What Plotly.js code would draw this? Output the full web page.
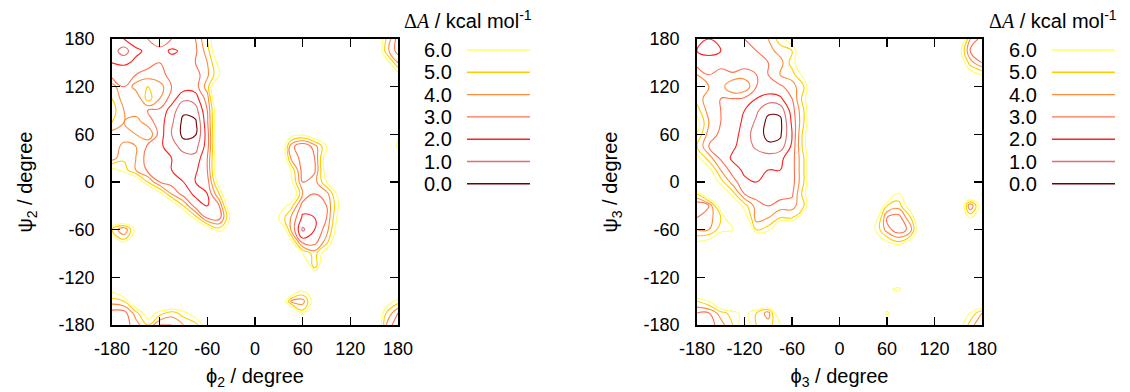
<!DOCTYPE html>
<html>
<head>
<meta charset="utf-8">
<script src="https://cdn.plot.ly/plotly-3.0.1.min.js"></script>
<style>html,body{margin:0;padding:0;background:#fff;}#chart{width:1130px;height:392px;}</style>
</head>
<body>
<div id="chart"></div>
<script>
// grid of dihedral angles (degrees)
const phiGrid = [-180,-165,-150,-135,-120,-105,-90,-75,-60,-45,-30,-15,0,15,30,45,60,75,90,105,120,135,150,165,180];
const psiGridTopDown = [180,165,150,135,120,105,90,75,60,45,30,15,0,-15,-30,-45,-60,-75,-90,-105,-120,-135,-150,-165,-180];

// contour levels, labels and colours
const levels = [6,5,4,3,2,1,0];
const levelLabels = ['6.0','5.0','4.0','3.0','2.0','1.0','0.0'];
const levelColors = ['#ffff66','#ffcc00','#ff8c3c','#ff7050','#ff2020','#e07070','#700000'];
const tickVals = [-180,-120,-60,0,60,120,180];
const tickLabels = ['-180','-120','-60','0','60','120','180'];
const xTitles = ['ϕ<sub>2</sub> / degree','ϕ<sub>3</sub> / degree'];
const yTitles = ['ψ<sub>2</sub> / degree','ψ<sub>3</sub> / degree'];
const legendTitle = '<span style="font-family:Liberation Serif, Times New Roman, serif;">Δ<i>A</i></span> / kcal mol<sup>-1</sup>';

// free energy ΔA (kcal/mol), panel 1: phi2/psi2, rows from psi=180 down to psi=-180
const dA2 = [
 [2,2,2.5,3,4,3,2.5,3,5,8,9,9,9,9,9,9,9,9,9,9,9,9,9,5,2.5],
 [1.5,0.5,1.8,2.2,2.5,1.8,2.2,2.8,4.5,8,9,9,9,9,9,9,9,9,9,9,9,9,9,4.5,2.5],
 [2,1.8,2.2,2.5,3,2.5,2.8,3,4,6.5,9,9,9,9,9,9,9,9,9,9,9,9,9,7,4],
 [2.5,2.8,3,3.5,3.2,2.8,3,2.5,3.8,6,9,9,9,9,9,9,9,9,9,9,9,9,9,9,6.5],
 [4.5,3,4.5,5,4.5,3,2.5,2.5,4.5,9,9,9,9,9,9,9,9,9,9,9,9,9,9,9,9],
 [5,3.5,3,5.5,4,2.5,1.2,1.5,3.5,9,9,9,9,9,9,9,9,9,9,9,9,9,9,9,9],
 [5.5,4,3.5,3,2.8,1.5,0.2,0.5,3,8,9,9,9,9,9,9,9,9,9,9,9,9,9,9,9],
 [5,4,4.5,3.5,2.5,1.2,-0.3,-0.2,2.8,8,9,9,9,9,9,9,9,9,9,9,9,9,9,9,9],
 [3.5,3,4,5,2.5,1,-0.3,-0.1,2.5,8,9,9,9,9,9,6.8,6.3,7.5,9,9,9,9,9,9,6.5],
 [3,4.5,4,2.8,2.2,1.5,0.5,0.6,2.5,8,9,9,9,9,9,3.5,2,3.5,6,9,9,9,9,9,5.5],
 [3.5,4.8,4,2.5,2.2,2,1.5,1.3,3,8,9,9,9,9,9,4,2.5,3,7,9,9,9,9,9,9],
 [6.5,5.5,4,2.8,2.3,2,2,1.8,3,8,9,9,9,9,9,6,2.5,2.8,7,9,9,9,9,9,9],
 [9,9,7.5,5,3,2.5,2,2,2.5,7,9,9,9,9,9,6.5,3,3.5,6,9,9,9,9,9,9],
 [9,9,9,9,6.5,4,2.5,1.8,2,5,9,9,9,9,9,8,4,3,3.5,6.5,9,9,9,9,9],
 [9,9,9,9,9,7.5,5,2.5,2,3,8,9,9,9,7,5.5,2.5,2.2,3,6,9,9,9,9,9],
 [9,9,9,9,9,9,8,5.5,2.8,2.5,6.5,9,9,9,6,4,1.8,2,3,6.5,9,9,9,9,9],
 [5,3,6.5,9,9,9,9,9,7,5.5,7,9,9,9,9,4,0.8,2,3.5,7,9,9,9,9,9],
 [9,5.5,9,9,9,9,9,9,9,9,9,9,9,9,9,6.5,2.5,2.5,4.5,8,9,9,9,9,9],
 [9,9,9,9,9,9,9,9,9,9,9,9,9,9,9,9,6,4.5,7,9,9,9,9,9,9],
 [9,9,9,9,9,9,9,9,9,9,9,9,9,9,9,9,9,4,9,9,9,9,9,9,9],
 [9,9,9,9,9,9,9,9,9,9,9,9,9,9,9,9,9,9,9,9,9,9,9,9,9],
 [6.5,8,9,9,9,9,9,9,9,9,9,9,9,9,9,9,6.5,9,9,9,9,9,9,9,9],
 [4.5,5,8,9,9,9,9,9,9,9,9,9,9,9,9,4,3.5,7,9,9,9,9,9,7,5.5],
 [2.5,2.5,4.5,7,5.5,4.5,5.5,7,9,9,9,9,9,9,9,9,5.5,9,9,9,9,9,9,5,3],
 [2,2.5,3.5,5,3,3,4,4.5,7,9,9,9,9,9,9,9,9,9,9,9,9,9,9,4,2]
];

// panel 2: phi3/psi3, rows from psi=180 down to psi=-180
const dA3 = [
 [2.5,2,2.5,2.8,3,3.5,4,5.5,7,9,9,9,9,9,9,9,9,9,9,9,9,9,9,4,2.5],
 [2,1.5,2,2.2,2.5,3,3.5,4.5,5,8,9,9,9,9,9,9,9,9,9,9,9,9,7,3,2.5],
 [2.5,2.8,2.5,2.2,2.5,2.5,3,3.5,5.5,7.5,9,9,9,9,9,9,9,9,9,9,9,9,8,4.5,3],
 [4,3,3.5,3.2,3.5,3,3,4,4.5,6.5,9,9,9,9,9,9,9,9,9,9,9,9,9,7,6],
 [5,4,3.5,5,4.8,3,2.8,2.8,3.5,5,9,9,9,9,9,9,9,9,9,9,9,9,9,9,9],
 [4.5,3.5,3,3,2.8,2,1.5,1.8,3,5.5,9,9,9,9,9,9,9,9,9,9,9,9,9,9,9],
 [5.5,3.5,3,2.5,2,1.2,0.2,0.3,2.5,5,9,9,9,9,9,9,9,9,9,9,9,9,9,9,9],
 [6.5,4,3,2.5,1.8,0.8,-0.3,-0.3,2.2,5,9,9,9,9,9,9,9,9,9,9,9,9,9,9,9],
 [6,3.5,2.8,2.5,1.5,0.5,-0.3,-0.2,2,5.5,9,9,9,9,9,9,9,9,9,9,9,9,9,9,9],
 [5,3,2.5,2.2,1.5,0.8,0.2,0.4,2.2,5.5,9,9,9,9,9,9,9,9,9,9,9,9,9,9,9],
 [6.5,4.5,2.8,1.8,1.8,1.5,1.5,1.8,2.5,5,9,9,9,9,9,9,9,9,9,9,9,9,9,9,9],
 [9,6.5,4,2.5,1.8,1.8,2,2,2.5,5,9,9,9,9,9,9,9,9,9,9,9,9,9,9,9],
 [9,8,5.5,3.5,2.2,2,2.5,2.2,2.5,5,9,9,9,9,9,9,9,9,9,9,9,9,9,9,9],
 [5,8,8,5.5,3,2.5,2.5,2.5,2.8,5.5,9,9,9,9,9,9,9,5.8,9,9,9,9,9,9,5.8],
 [2,3,7,8,5.5,3.5,3,3.5,3.5,5,9,9,9,9,9,9,5,4.5,7,9,9,9,9,3,7],
 [3,3.5,5,8,7,3.5,4,5,5,7.5,9,9,9,9,9,7,3,2.5,5,9,9,9,9,6,9],
 [4,4,5.5,5.8,9,5,5.5,9,9,9,9,9,9,9,9,6,3.5,2.2,3.5,9,9,9,9,9,5.8],
 [6,6.5,8,9,9,9,9,9,9,9,9,9,9,9,9,9,6,5,6.5,9,9,9,9,9,9],
 [9,9,9,9,9,9,9,9,9,9,9,9,9,9,9,9,9,9,9,9,9,9,9,9,9],
 [9,9,9,9,9,9,9,9,9,9,9,9,9,9,9,9,9,9,9,9,9,9,9,9,9],
 [9,9,9,9,9,9,9,9,9,9,9,9,9,9,9,9,9,9,9,9,9,9,9,9,9],
 [9,9,9,9,9,9,9,9,9,9,9,9,9,9,9,9,6.5,5.5,9,9,9,9,9,9,9],
 [5,6,9,9,9,9,9,9,9,9,9,9,9,9,9,9,9,9,9,9,9,9,9,9,9],
 [3,3,4.5,5.5,6.5,5,3.5,8,9,9,9,9,9,9,9,9,5.5,9,9,9,9,9,9,6,4],
 [2.5,2.5,3.5,5,7,5,4.5,6,9,9,9,9,9,9,9,9,9,9,9,9,9,9,7,4.5,3]
];

const psiGrid = psiGridTopDown.slice().reverse();
const z2 = dA2.slice().reverse();
const z3 = dA3.slice().reverse();

const lvlMin = Math.min(...levels), lvlMax = Math.max(...levels);
const colorscale = levels.map((l,i)=>[(l-lvlMin)/(lvlMax-lvlMin), levelColors[i]]).sort((a,b)=>a[0]-b[0]);

function contourTrace(z, xa, ya){
  return {
    type:'contour', x:phiGrid, y:psiGrid, z:z, xaxis:xa, yaxis:ya,
    zmin:lvlMin, zmax:lvlMax, colorscale:colorscale, showscale:false,
    contours:{start:lvlMin, end:lvlMax, size:1, coloring:'lines'},
    line:{width:1.1, smoothing:1.3}, hoverinfo:'skip'
  };
}

const data = [contourTrace(z2,'x','y'), contourTrace(z3,'x2','y2')];

const FONT = 'Liberation Sans, Arial, sans-serif';
function axis(dom, anchor, standoff, title, titleStandoff){
  return {domain:dom, anchor:anchor, range:[-180,180], tickmode:'array', tickvals:tickVals, ticktext:tickLabels,
    ticks:'inside', ticklen:8, tickwidth:1.2, tickcolor:'#000', mirror:'allticks', showline:true, linecolor:'#000', linewidth:1.8,
    showgrid:false, zeroline:false, ticklabelstandoff:standoff, tickfont:{family:FONT, size:18, color:'#000'},
    title:{text:title, font:{family:FONT, size:20, color:'#000'}, standoff:titleStandoff}, automargin:false};
}

const W = 870, H = 286; // plot-area size in pixels
const px = v => v / W, py = v => v / H;
const panelOffsets = [0, 585];
const annotations = [], shapes = [];
panelOffsets.forEach((off, k)=>{
  annotations.push({xref:'paper', yref:'paper', x:px(off+290), y:py(305), xanchor:'left', yanchor:'middle', showarrow:false,
    text:legendTitle, font:{family:FONT, size:20, color:'#000'}});
  levelLabels.forEach((lab, i)=>{
    const yy = 286 - (11 + i*22.3);
    annotations.push({xref:'paper', yref:'paper', x:px(off+342), y:py(yy), xanchor:'right', yanchor:'middle', showarrow:false,
      text:lab, font:{family:FONT, size:20, color:'#000'}});
    shapes.push({type:'line', xref:'paper', yref:'paper', x0:px(off+355), x1:px(off+418), y0:py(yy), y1:py(yy),
      line:{color:levelColors[i], width:1.4}});
  });
});

const layout = {
  width:1130, height:392,
  margin:{l:112, r:148, t:39, b:67, pad:0},
  paper_bgcolor:'#fff', plot_bgcolor:'#fff',
  showlegend:false,
  xaxis:axis([0, 286/870], 'y', 7, xTitles[0], 10), yaxis:axis([0,1], 'x', 12, yTitles[0], 20),
  xaxis2:axis([585/870, 1], 'y2', 7, xTitles[1], 10), yaxis2:axis([0,1], 'x2', 12, yTitles[1], 20),
  annotations:annotations, shapes:shapes
};

Plotly.newPlot('chart', data, layout, {staticPlot:true});
</script>
</body>
</html>
